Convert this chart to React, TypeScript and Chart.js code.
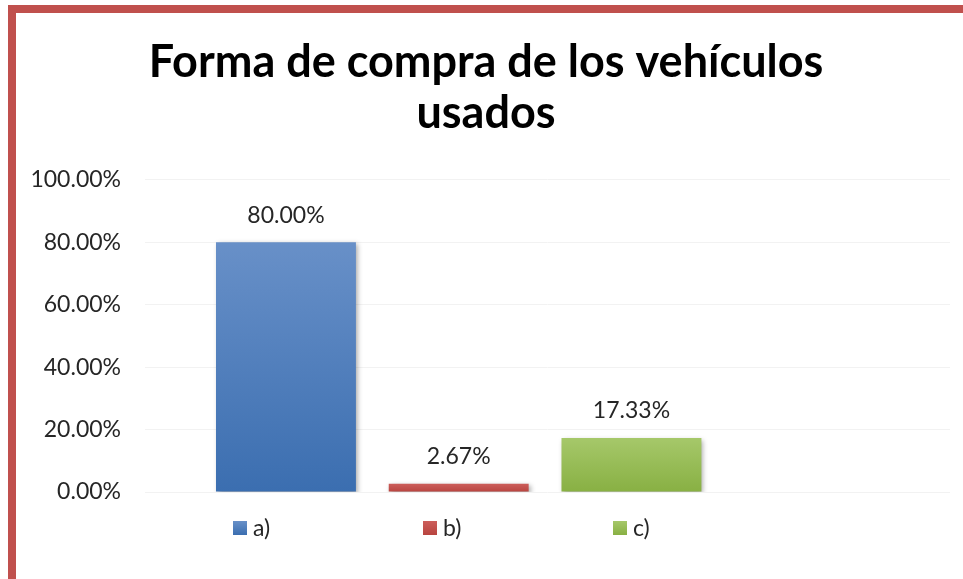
import React, { useEffect, useRef } from 'react';
import { Chart, registerables } from 'chart.js';

Chart.register(...registerables);

// ---- data ----
const categories = ['a)', 'b)', 'c)'];
const positions = [1, 2, 3];
const values = [80.0, 2.67, 17.33];
const yTickStep = 20;
const yMax = 100;
const titleLines = ['Forma de compra de los vehículos', 'usados'];

// ---- styles ----
const baseColors = ['#4F81BD', '#C0504D', '#9BBB59'];
const topColors = ['#6890C8', '#CC5E5B', '#A6C86A'];
const bottomColors = ['#3B6EB0', '#B8443F', '#88B043'];
const textColor = '#262626';
const FONT = 'Lato, "Open Sans", sans-serif';

const shadowPlugin = {
  id: 'barShadow',
  beforeDatasetsDraw(chart: any) {
    const c = chart.ctx;
    c.save();
    c.shadowColor = 'rgba(0,0,0,0.35)';
    c.shadowBlur = 5;
    c.shadowOffsetX = 2;
    c.shadowOffsetY = 2;
  },
  afterDatasetsDraw(chart: any) {
    chart.ctx.restore();
  },
};

const labelPlugin = {
  id: 'valueLabels',
  afterDraw(chart: any) {
    const c = chart.ctx;
    c.save();
    c.font = `23px ${FONT}`;
    c.fillStyle = textColor;
    c.textAlign = 'center';
    c.textBaseline = 'middle';
    chart.data.datasets.forEach((ds: any, i: number) => {
      const meta = chart.getDatasetMeta(i);
      meta.data.forEach((el: any, j: number) => {
        const v = ds.data[j].y as number;
        c.fillText(v.toFixed(2) + '%', el.x, el.y - 27);
      });
    });
    c.restore();
  },
};

const legendPlugin = {
  id: 'spreadLegend',
  afterDraw(chart: any) {
    const c = chart.ctx;
    const area = chart.chartArea;
    const yc = area.bottom + 36;
    c.save();
    c.font = `23px ${FONT}`;
    c.textAlign = 'left';
    c.textBaseline = 'middle';
    chart.data.datasets.forEach((ds: any, i: number) => {
      const x = area.left + 88 + i * 190;
      const g = c.createLinearGradient(0, yc - 7, 0, yc + 7);
      g.addColorStop(0, topColors[i]);
      g.addColorStop(1, bottomColors[i]);
      c.fillStyle = g;
      c.fillRect(x, yc - 7, 14, 14);
      c.fillStyle = textColor;
      c.fillText(ds.label, x + 20, yc + 1);
    });
    c.restore();
  },
};

export default function App() {
  const ref = useRef<HTMLCanvasElement | null>(null);

  useEffect(() => {
    if (!ref.current) return;
    const datasets = categories.map((label, i) => ({
      label,
      data: [{ x: positions[i], y: values[i] }],
      grouped: false,
      barPercentage: 0.81,
      categoryPercentage: 1,
      borderWidth: 0,
      backgroundColor: (ctx: any) => {
        const chart = ctx.chart;
        const ys = chart.scales && chart.scales.y;
        if (!ys || !ctx.parsed || ctx.type !== 'data') return baseColors[i];
        const top = ys.getPixelForValue(ctx.parsed.y);
        const bottom = ys.getPixelForValue(0);
        if (!isFinite(top) || !isFinite(bottom) || top === bottom) return baseColors[i];
        const g = chart.ctx.createLinearGradient(0, top, 0, bottom);
        g.addColorStop(0, topColors[i]);
        g.addColorStop(1, bottomColors[i]);
        return g;
      },
    }));

    const chart = new Chart(ref.current, {
      type: 'bar',
      data: { datasets } as any,
      options: {
        animation: false,
        responsive: false,
        layout: { padding: { left: 6, right: 13, top: 0, bottom: 87 } },
        plugins: {
          legend: { display: false },
          tooltip: { enabled: false },
          title: {
            display: true,
            text: titleLines,
            color: '#000000',
            font: { family: FONT, size: 45, weight: 'bold', lineHeight: 1.155 },
            padding: { top: 23, bottom: 40 },
          },
        },
        scales: {
          x: {
            type: 'linear',
            offset: false,
            min: 0.184,
            max: 4.844,
            display: false,
            ticks: { stepSize: 1, includeBounds: false },
            grid: { display: false, offset: false },
          },
          y: {
            min: 0,
            max: yMax,
            ticks: {
              stepSize: yTickStep,
              padding: 24,
              color: textColor,
              font: { family: FONT, size: 23 },
              callback: (v: any) => Number(v).toFixed(2) + '%',
            },
            grid: { color: '#F2F2F2', drawTicks: false },
            border: { display: false },
            afterFit: (s: any) => {
              s.width = 123;
            },
          },
        },
      } as any,
      plugins: [shadowPlugin, labelPlugin, legendPlugin],
    });
    return () => chart.destroy();
  }, []);

  return (
    <div style={{ position: 'fixed', left: 0, top: 0, width: 963, height: 579, overflow: 'hidden', background: '#ffffff' }}>
      <div
        style={{
          position: 'absolute',
          left: 8,
          top: 5,
          width: 2000,
          height: 2000,
          borderLeft: '8px solid #C0504D',
          borderTop: '8px solid #C0504D',
        }}
      />
      <canvas ref={ref} width={947} height={566} style={{ position: 'absolute', left: 16, top: 13, width: 947, height: 566 }} />
    </div>
  );
}
